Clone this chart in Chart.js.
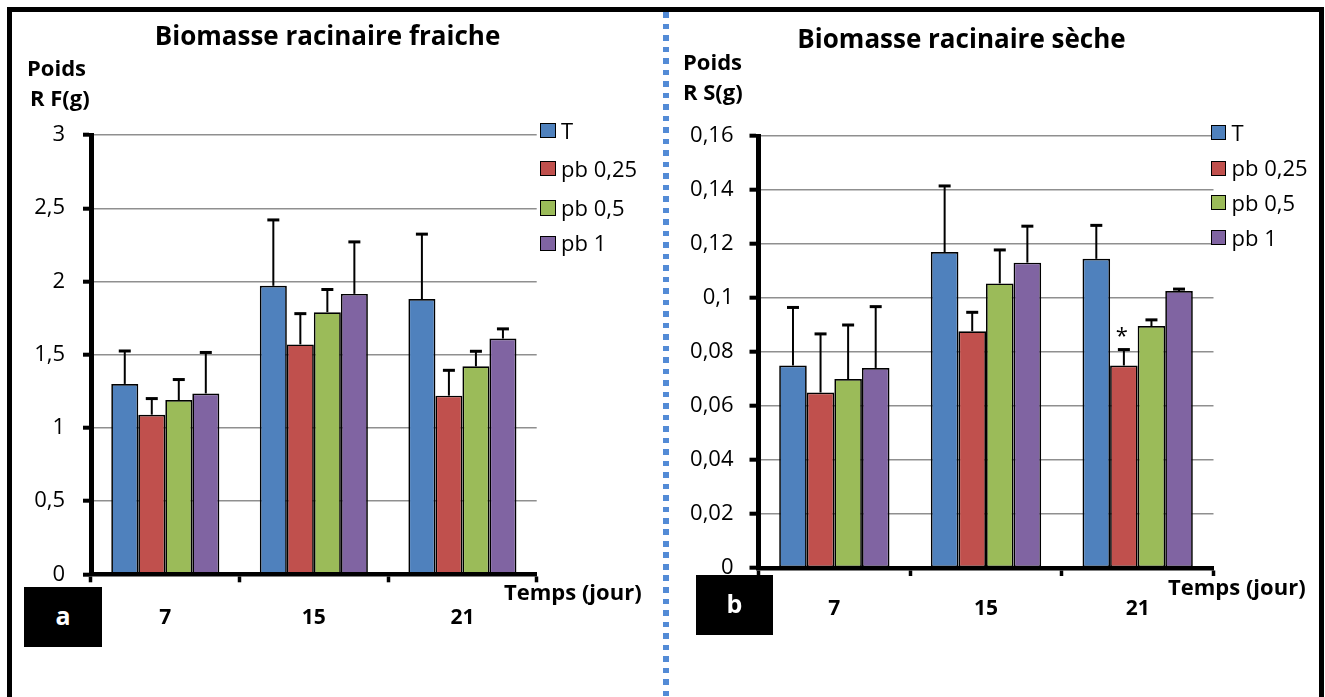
<!DOCTYPE html>
<html><head><meta charset="utf-8">
<script src="https://cdn.jsdelivr.net/npm/chart.js@4.4.1/dist/chart.umd.min.js"></script>
<style>
html,body{margin:0;padding:0;background:#fff;}
body{width:1325px;height:697px;position:relative;overflow:hidden;font-family:"Open Sans",sans-serif;}
.abs{position:absolute;white-space:nowrap;line-height:1;color:#000;}
canvas{position:absolute;top:0;}
.frame{position:absolute;background:#000;z-index:5;}
.sq{position:absolute;box-sizing:border-box;border:1.5px solid #000;}
</style></head><body>
<canvas id="c1" width="662" height="697" style="left:0px;width:662px;height:697px"></canvas>
<canvas id="c2" width="660" height="697" style="left:665px;width:660px;height:697px"></canvas>
<script>
// ---------- DATA ----------
const categories = ['7', '15', '21'];
const seriesNames = ['T', 'pb 0,25', 'pb 0,5', 'pb 1'];
const seriesColors = ['#4F81BD', '#C0504D', '#9BBB59', '#8064A2'];

// Biomasse racinaire fraiche (g)
const freshT      = [1.30, 1.97, 1.88];
const freshPb025  = [1.09, 1.57, 1.22];
const freshPb05   = [1.19, 1.79, 1.42];
const freshPb1    = [1.235, 1.915, 1.61];
const freshErrT     = [0.225, 0.45, 0.443];
const freshErrPb025 = [0.11, 0.21, 0.173];
const freshErrPb05  = [0.14, 0.155, 0.103];
const freshErrPb1   = [0.28, 0.355, 0.066];
const freshTickLabels = ['0', '0,5', '1', '1,5', '2', '2,5', '3'];

// Biomasse racinaire seche (g)
const dryT      = [0.075, 0.117, 0.1145];
const dryPb025  = [0.065, 0.0877, 0.075];
const dryPb05   = [0.070, 0.1054, 0.0896];
const dryPb1    = [0.0741, 0.1131, 0.1026];
const dryErrT     = [0.0215, 0.0245, 0.0124];
const dryErrPb025 = [0.0217, 0.007, 0.0059];
const dryErrPb05  = [0.020, 0.0124, 0.0023];
const dryErrPb1   = [0.0227, 0.0135, 0.0007];
const dryTickLabels = ['0', '0,02', '0,04', '0,06', '0,08', '0,1', '0,12', '0,14', '0,16'];
const drySignifPb025 = ['', '', '*'];

// ---------- HELPERS ----------
Chart.defaults.font.family = '"Open Sans", sans-serif';
Chart.defaults.color = '#000';

function txt(str, x, base, size, bold, align, color) {
  const d = document.createElement('div');
  d.className = 'abs';
  d.textContent = str;
  d.style.fontSize = size + 'px';
  d.style.fontWeight = bold ? '700' : '400';
  d.style.top = (base - 0.888 * size) + 'px';
  d.style.left = x + 'px';
  if (align === 'center') d.style.transform = 'translateX(-50%)';
  if (color) d.style.color = color;
  d.style.zIndex = 6;
  document.body.appendChild(d);
  return d;
}
function rect(x, y, w, h, cls, color) {
  const d = document.createElement('div');
  d.className = cls || 'frame';
  d.style.left = x + 'px'; d.style.top = y + 'px';
  d.style.width = w + 'px'; d.style.height = h + 'px';
  if (color) d.style.background = color;
  document.body.appendChild(d);
  return d;
}

const errorBarPlugin = {
  id: 'errorBars',
  afterDatasetsDraw(chart) {
    const ctx = chart.ctx;
    const ys = chart.scales.y;
    chart.data.datasets.forEach((ds, i) => {
      const meta = chart.getDatasetMeta(i);
      meta.data.forEach((bar, j) => {
        const v = ds.data[j], e = ds.errors[j];
        const yTop = ys.getPixelForValue(v + e);
        ctx.save();
        ctx.strokeStyle = '#000';
        ctx.lineWidth = 2;
        ctx.beginPath(); ctx.moveTo(bar.x, bar.y); ctx.lineTo(bar.x, yTop); ctx.stroke();
        ctx.lineWidth = 3;
        ctx.beginPath(); ctx.moveTo(bar.x - 6, yTop); ctx.lineTo(bar.x + 6, yTop); ctx.stroke();
        if (ds.signif && ds.signif[j]) {
          ctx.fillStyle = '#000';
          ctx.font = '22px "Open Sans"';
          ctx.textAlign = 'center';
          ctx.textBaseline = 'alphabetic';
          ctx.fillText(ds.signif[j], bar.x - 2, yTop - 19.5 + 0.58 * 22);
        }
        ctx.restore();
      });
    });
  }
};

function makeChart(canvasId, values, errors, signif, yMax, yStep, tickLabels, g) {
  const datasets = seriesNames.map((name, i) => ({
    label: name,
    data: values[i],
    errors: errors[i],
    signif: signif[i],
    backgroundColor: seriesColors[i],
    borderColor: '#000',
    borderWidth: 1.7,
    borderSkipped: false,
    categoryPercentage: 4 / 5.5,
    barPercentage: 1.0
  }));
  return new Chart(document.getElementById(canvasId), {
    type: 'bar',
    data: { labels: categories, datasets },
    plugins: [errorBarPlugin],
    options: {
      responsive: false,
      animation: false,
      devicePixelRatio: 1,
      events: [],
      layout: { padding: { left: 0, top: g.top, right: g.right, bottom: 0 } },
      plugins: { legend: { display: false }, tooltip: { enabled: false }, title: { display: false } },
      scales: {
        x: {
          offset: true,
          grid: { display: true, offset: true, drawOnChartArea: false, drawTicks: true,
                  tickLength: 8, tickColor: '#000', tickWidth: 3.5 },
          border: { display: true, color: '#000', width: 4.5 },
          ticks: { font: { size: 21, weight: 'bold' }, color: '#000', padding: g.xPad, maxRotation: 0 },
          afterFit(scale) { scale.height = g.xH; }
        },
        y: {
          min: 0, max: yMax,
          ticks: { stepSize: yStep, font: { size: 22 }, color: '#000', padding: g.yPad,
                   callback: (v, idx) => tickLabels[idx] },
          grid: { color: '#8f8f8f', lineWidth: 1.4, tickLength: g.yTick, tickColor: '#000', tickWidth: 4 },
          border: { display: true, color: '#000', width: 5 },
          afterFit(scale) { scale.width = g.yW; }
        }
      }
    }
  });
}

// ---------- CHARTS ----------
makeChart('c1',
  [freshT, freshPb025, freshPb05, freshPb1],
  [freshErrT, freshErrPb025, freshErrPb05, freshErrPb1],
  [null, null, null, null],
  3, 0.5, freshTickLabels,
  { top: 135, right: 662 - 536.7, xH: 697 - 574.3, yW: 91, xPad: 23, yPad: 18, yTick: 8 });

makeChart('c2',
  [dryT, dryPb025, dryPb05, dryPb1],
  [dryErrT, dryErrPb025, dryErrPb05, dryErrPb1],
  [null, drySignifPb025, null, null],
  0.16, 0.02, dryTickLabels,
  { top: 136, right: 660 - 548.5, xH: 697 - 568, yW: 93.5, xPad: 20, yPad: 16, yTick: 9 });

// ---------- TEXTS ----------
txt('Biomasse racinaire fraiche', 327.5, 45, 26, true, 'center');
txt('Poids', 27, 76, 22, true);
txt('R F(g)', 30, 105.3, 22, true);
txt('Temps (jour)', 504, 600, 22, true);

txt('Biomasse racinaire sèche', 961.5, 48.3, 26, true, 'center');
txt('Poids', 683, 69.5, 22, true);
txt('R S(g)', 683, 100, 22, true);
txt('Temps (jour)', 1168, 594.3, 22, true);

// panel label boxes
rect(24.3, 586.7, 78, 60.6, 'frame');
txt('a', 63, 625, 25, true, 'center', '#fff');
rect(695.7, 575, 77.6, 60, 'frame');
txt('b', 734.5, 613, 25, true, 'center', '#fff');

// legends
function legend(sqX, textX, centers) {
  seriesNames.forEach((name, i) => {
    const s = rect(sqX, centers[i] - 7.75, 15.5, 15.5, 'sq', seriesColors[i]);
    s.style.zIndex = 6;
    txt(name, textX, centers[i] + 7.6, 22, false);
  });
}
legend(540, 561, [130.5, 168.7, 207.8, 243.3]);
legend(1210.5, 1231.5, [132.5, 168.3, 202.5, 237.5]);

// outer frame
rect(6.7, 6.5, 1317.5, 5, 'frame');
rect(6.7, 6.5, 5, 697, 'frame');
rect(1319, 6.5, 5, 697, 'frame');
// blue dotted separator
const sep = document.createElement('div');
sep.style.cssText = 'position:absolute;left:663px;top:11.5px;width:6px;height:690px;z-index:5;' +
  'background:repeating-linear-gradient(to bottom,#538bd6 0px,#538bd6 5.7px,transparent 5.7px,transparent 11.5px);';
document.body.appendChild(sep);
</script>
</body></html>
